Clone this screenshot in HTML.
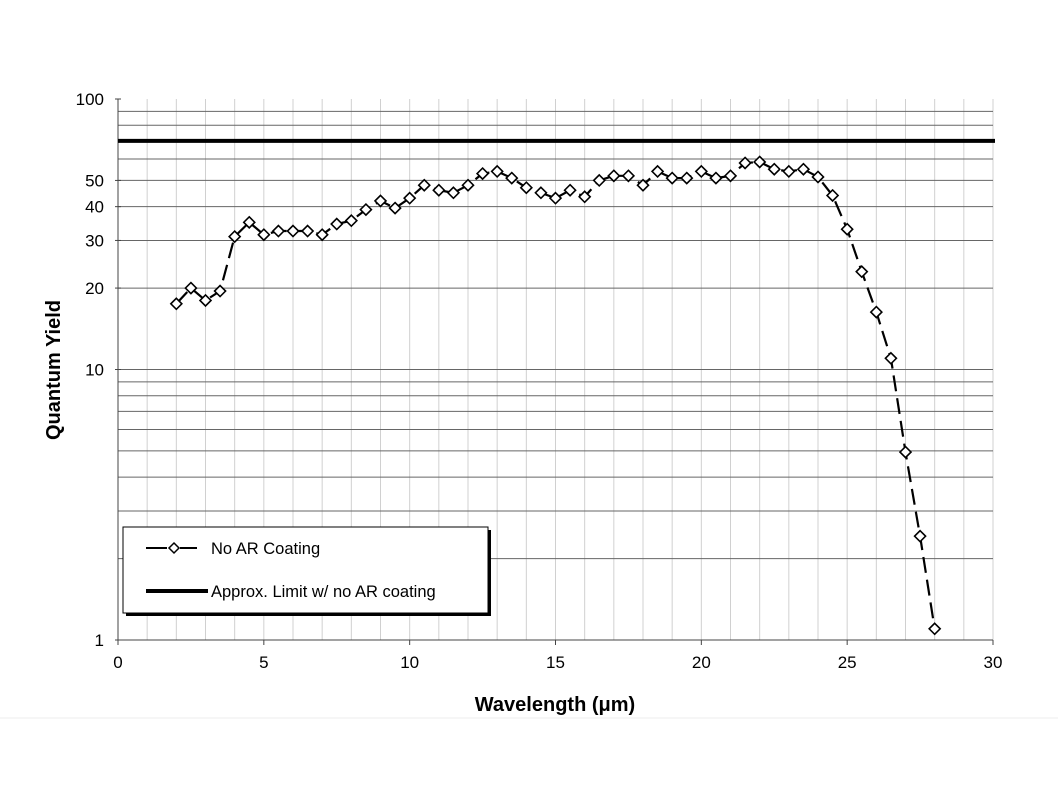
<!DOCTYPE html>
<html><head><meta charset="utf-8"><style>
body{margin:0;background:#fff}
svg{display:block;font-family:"Liberation Sans",Arial,sans-serif}
</style></head><body>
<svg width="1058" height="794" viewBox="0 0 1058 794">
<g id="grid"></g>
<g id="axes"></g>
<g id="series"></g>
<text x="555" y="711" text-anchor="middle" font-size="20" font-weight="bold">Wavelength (μm)</text>
<text transform="translate(60,370) rotate(-90)" text-anchor="middle" font-size="20" font-weight="bold">Quantum Yield</text>
<line x1="0" y1="718" x2="1058" y2="718" stroke="#eee" stroke-width="1"/>
<g>
<rect x="126" y="530" width="365" height="86" fill="#000"/>
<rect x="123" y="527" width="365" height="86" fill="#fff" stroke="#000" stroke-width="1"/>
<g>
<line x1="146" y1="548" x2="167" y2="548" stroke="#000" stroke-width="2"/>
<line x1="180" y1="548" x2="197" y2="548" stroke="#000" stroke-width="2"/>
<path d="M174 543 L179 548 L174 553 L169 548 Z" fill="#fff" stroke="#000" stroke-width="1.5"/>
<text x="211" y="554" font-size="16.5">No AR Coating</text>
</g>
<g>
<line x1="146" y1="591" x2="208" y2="591" stroke="#000" stroke-width="4"/>
<text x="211" y="597" font-size="16.5">Approx. Limit w/ no AR coating</text>
</g>
</g>
<script>
const xValues=[2,2.5,3,3.5,4,4.5,5,5.5,6,6.5,7,7.5,8,8.5,9,9.5,10,10.5,11,11.5,12,12.5,13,13.5,14,14.5,15,15.5,16,16.5,17,17.5,18,18.5,19,19.5,20,20.5,21,21.5,22,22.5,23,23.5,24,24.5,25,25.5,26,26.5,27,27.5,28];
const yieldValues=[17.5,20,18,19.5,31,35,31.5,32.5,32.5,32.5,31.5,34.5,35.5,39,42,39.5,43,48,46,45,48,53,54,51,47,45,43,46,43.5,50,52,52,48,54,51,51,54,51,52,58,58.5,55,54,55,51.5,44,33,23,16.3,11,4.95,2.42,1.1];
const limitValue=70;
const xTicks=[0,5,10,15,20,25,30];
const yTickLabels=[1,10,20,30,40,50,100];
const NS="http://www.w3.org/2000/svg";
const X0=118,X1=993,Y0=640,Y1=99;
function sx(v){return X0+(X1-X0)*v/30;}
function sy(v){return Y0-(Y0-Y1)*Math.log10(v)/2;}
function mk(p,tag,a){const e=document.createElementNS(NS,tag);for(const k in a)e.setAttribute(k,a[k]);p.appendChild(e);return e;}
const grid=document.getElementById('grid'),axes=document.getElementById('axes'),ser=document.getElementById('series');
for(let i=1;i<=30;i++){const l=mk(grid,'line',{x1:sx(i),x2:sx(i),y1:Y1,y2:Y0,stroke:'#d0d0d0','stroke-width':1});

}
for(let d=1;d<=10;d*=10)for(let m=1;m<=10;m++){const v=d*m;if(v<=1||v>=100)continue;
const l=mk(grid,'line',{x1:X0,x2:X1,y1:sy(v),y2:sy(v),stroke:'#666','stroke-width':1});

}
mk(axes,'line',{x1:X0,x2:X0,y1:Y1,y2:Y0,stroke:'#444','stroke-width':1});
mk(axes,'line',{x1:X0,x2:X1,y1:Y0,y2:Y0,stroke:'#444','stroke-width':1});
xTicks.forEach(t=>{mk(axes,'line',{x1:sx(t),x2:sx(t),y1:Y0,y2:Y0+5,stroke:'#444'});
const tx=mk(axes,'text',{x:sx(t),y:Y0+28,'text-anchor':'middle','font-size':17});tx.textContent=t;

});
yTickLabels.forEach(t=>{mk(axes,'line',{x1:X0-3,x2:X0+3,y1:sy(t),y2:sy(t),stroke:'#444'});
const tx=mk(axes,'text',{x:X0-14,y:sy(t)+6,'text-anchor':'end','font-size':17});tx.textContent=t;

});
const lim=mk(ser,'line',{x1:X0,x2:X1+2,y1:sy(limitValue),y2:sy(limitValue),stroke:'#000','stroke-width':4});


const pts=xValues.map((x,i)=>sx(x)+','+sy(yieldValues[i])).join(' ');
const pl=mk(ser,'polyline',{points:pts,fill:'none',stroke:'#000','stroke-width':2.2,'stroke-dasharray':'16,7'});


xValues.forEach((x,i)=>{const cx=sx(x),cy=sy(yieldValues[i]);
const p=mk(ser,'path',{d:`M${cx} ${cy-5.5} L${cx+5.5} ${cy} L${cx} ${cy+5.5} L${cx-5.5} ${cy} Z`,fill:'#fff',stroke:'#000','stroke-width':1.6});

});
</script>
</svg>
</body></html>
